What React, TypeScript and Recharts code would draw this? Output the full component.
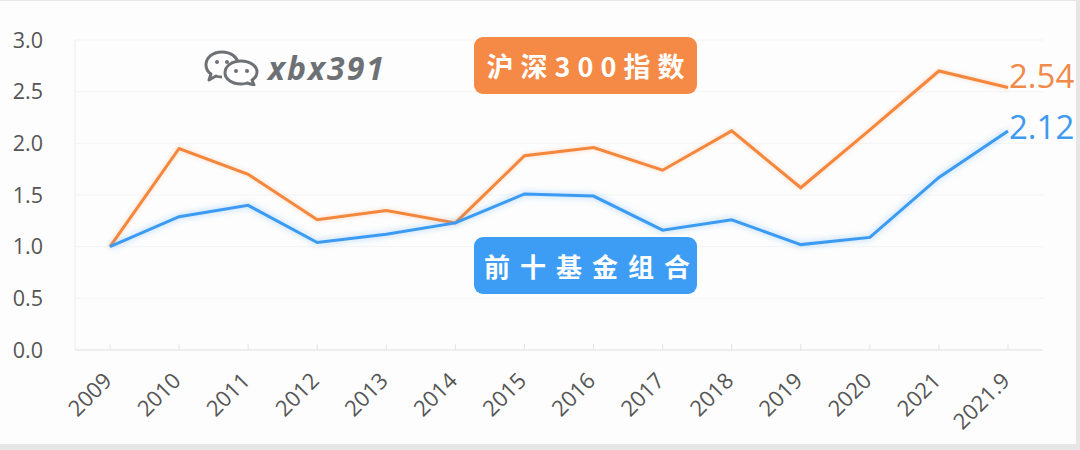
import React from 'react';
import { LineChart, Line, XAxis, YAxis, CartesianGrid } from 'recharts';

const years = ['2009', '2010', '2011', '2012', '2013', '2014', '2015', '2016', '2017', '2018', '2019', '2020', '2021', '2021.9'];
const hs300 = [1.0, 1.95, 1.7, 1.26, 1.35, 1.23, 1.88, 1.96, 1.74, 2.12, 1.57, 2.13, 2.7, 2.54];
const top10 = [1.0, 1.29, 1.4, 1.04, 1.12, 1.23, 1.51, 1.49, 1.16, 1.26, 1.02, 1.09, 1.67, 2.12];
const yTicks = [0, 0.5, 1, 1.5, 2, 2.5, 3];

const data = years.map((year, i) => ({ year, hs300: hs300[i], top10: top10[i] }));

const ORANGE = '#f5873d';
const BLUE = '#3b9bf3';
const AXIS_TEXT = '#555555';
const FONT = '"Open Sans", "Noto Sans", sans-serif';
const CJK = '"Noto Sans CJK SC", sans-serif';

function XTick({ x, y, payload }: any) {
  const ax = x - 1;
  const ay = y + 28;
  return (
    <g>
      <line x1={x} y1={y - 6} x2={x} y2={y} stroke="#e3e3e3" />
      <text
        x={ax}
        y={ay}
        transform={`rotate(-45, ${ax}, ${ay})`}
        textAnchor="end"
        dominantBaseline="middle"
        fontSize={22}
        fill={AXIS_TEXT}
        fontFamily={FONT}
      >
        {payload.value}
      </text>
    </g>
  );
}

const endLabel = (color: string, dy: number) => (props: any) => {
  const { x, y, value, index } = props;
  if (index !== years.length - 1) return null;
  return (
    <text x={x + 1} y={y} dy={dy} fontSize={33} fill={color} fontFamily={FONT}>
      {Number(value).toFixed(2)}
    </text>
  );
};

function WeChatIcon() {
  return (
    <svg width={56} height={36} viewBox="0 0 56 36">
      <path d="M18 2 C8 2 2 8 2 15 C2 19 4 22 7 24 L5 30 L12 26 C14 27 16 27 18 27" fill="none" stroke="#6d7175" strokeWidth={3} strokeLinejoin="round" />
      <path d="M18 2 C27 2 33 7 34 13" fill="none" stroke="#6d7175" strokeWidth={3} />
      <circle cx={13} cy={12} r={2} fill="#6d7175" />
      <circle cx={23} cy={12} r={2} fill="#6d7175" />
      <path d="M37 11 C28 11 21 16 21 23 C21 29 28 34 37 34 C39 34 41 34 43 33 L50 35 L48 30 C51 28 53 25 53 22 C53 16 46 11 37 11 Z" fill="#fff" stroke="#6d7175" strokeWidth={3} strokeLinejoin="round" />
      <circle cx={32} cy={21} r={2} fill="#6d7175" />
      <circle cx={43} cy={21} r={2} fill="#6d7175" />
    </svg>
  );
}

const badge: React.CSSProperties = {
  position: 'absolute',
  left: 474,
  width: 223,
  height: 57,
  borderRadius: 9,
  color: '#fff',
  fontFamily: CJK,
  fontWeight: 700,
  fontSize: 27,
  lineHeight: '57px',
  textAlign: 'center',
  whiteSpace: 'nowrap',
};

export default function App() {
  return (
    <div style={{ position: 'relative', width: 1080, height: 450, background: '#e6e6e6' }}>
      <style>{`body{margin:0} .glow-o{filter:drop-shadow(0 0 2px rgba(245,135,61,0.35))} .glow-b{filter:drop-shadow(0 0 3px rgba(59,155,243,0.5))}`}</style>
      <div style={{ position: 'absolute', left: 0, top: 1, width: 1076, height: 443, background: '#fdfdfd' }} />
      <div style={{ position: 'absolute', left: 0, top: 0 }}>
        <LineChart width={1080} height={450} data={data} margin={{ top: 40, right: 37, bottom: 0, left: 15 }}>
          <CartesianGrid vertical={false} stroke="#f3f3f3" />
          <XAxis
            dataKey="year"
            tick={<XTick />}
            tickLine={false}
            tickSize={0}
            tickMargin={0}
            axisLine={{ stroke: '#e3e3e3' }}
            interval={0}
            height={100}
            padding={{ left: 35, right: 35 }}
          />
          <YAxis
            domain={[0, 3]}
            ticks={yTicks}
            tickFormatter={(v: number) => v.toFixed(1)}
            tick={{ fontSize: 21.5, fill: AXIS_TEXT, fontFamily: FONT }}
            tickLine={false}
            tickSize={0}
            tickMargin={32}
            axisLine={{ stroke: '#ececec' }}
            width={60}
          />
          <Line
            dataKey="hs300"
            stroke={ORANGE}
            strokeWidth={3}
            dot={false}
            className="glow-o"
            isAnimationActive={false}
            label={endLabel('#f08a4a', 0)}
          />
          <Line
            dataKey="top10"
            stroke={BLUE}
            strokeWidth={3}
            dot={false}
            className="glow-b"
            isAnimationActive={false}
            label={endLabel('#3d9af0', 8)}
          />
        </LineChart>
      </div>
      <div style={{ ...badge, top: 37, background: '#f58a46', letterSpacing: 7, textIndent: 7 }}>沪深300指数</div>
      <div style={{ ...badge, top: 237, background: '#3d9df4', fontSize: 26, letterSpacing: 10, textIndent: 10 }}>前十基金组合</div>
      <div style={{ position: 'absolute', left: 204, top: 46, display: 'flex', alignItems: 'center', gap: 8 }}>
        <WeChatIcon />
        <span style={{ fontFamily: '"Open Sans", sans-serif', fontWeight: 700, fontStyle: 'italic', fontSize: 32, color: '#6d7175', letterSpacing: 2 }}>xbx391</span>
      </div>
    </div>
  );
}
